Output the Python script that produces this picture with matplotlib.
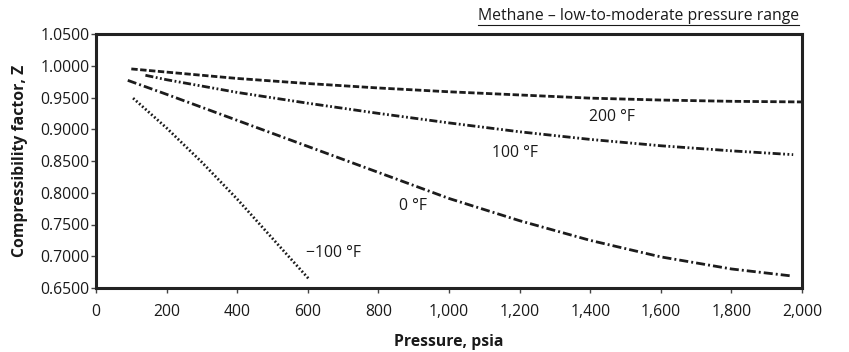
import matplotlib
matplotlib.use("Agg")
import matplotlib.pyplot as plt
from matplotlib.ticker import FuncFormatter, MultipleLocator
from matplotlib.lines import Line2D

plt.rcParams['font.family'] = ['Open Sans', 'DejaVu Sans']
plt.rcParams['lines.scale_dashes'] = False

# ---- data ----
p_200 = [100, 200, 400, 600, 800, 1000, 1200, 1400, 1600, 1800, 2000]
z_200 = [0.995, 0.990, 0.980, 0.972, 0.965, 0.959, 0.954, 0.949, 0.946, 0.944, 0.943]

p_100 = [140, 200, 400, 600, 800, 1000, 1200, 1400, 1600, 1800, 1975]
z_100 = [0.985, 0.978, 0.958, 0.941, 0.925, 0.910, 0.896, 0.884, 0.874, 0.866, 0.860]

p_0 = [90, 200, 400, 600, 800, 1000, 1200, 1400, 1600, 1800, 1970]
z_0 = [0.977, 0.955, 0.914, 0.873, 0.832, 0.791, 0.756, 0.725, 0.699, 0.680, 0.669]

p_m100 = [105, 200, 300, 400, 500, 605]
z_m100 = [0.949, 0.902, 0.848, 0.790, 0.728, 0.663]

curve_labels = ["200 \u00b0F", "100 \u00b0F", "0 \u00b0F", "\u2212100 \u00b0F"]
label_pos = [(1462, 0.919), (1187, 0.8626), (898, 0.779), (595, 0.705)]

title = "Methane \u2013 low-to-moderate pressure range"
xlabel = "Pressure, psia"
ylabel = "Compressibility factor, Z"

# ---- figure ----
W, H = 849, 352
fig = plt.figure(figsize=(W / 100, H / 100), dpi=100)
ax = fig.add_axes([96 / W, (H - 288) / H, (802 - 96) / W, (288 - 34) / H])

col = '#1c1c1c'
lw = 2.0
ax.plot(p_200, z_200, color=col, lw=lw, linestyle=(0, (4.6, 1.8)), dash_capstyle='butt')
ax.plot(p_100, z_100, color=col, lw=lw, linestyle=(0, (5.8, 1.8, 1.3, 1.8, 1.3, 1.8)), dash_capstyle='butt')
ax.plot(p_0, z_0, color=col, lw=lw, linestyle=(0, (6.5, 2.2, 1.4, 2.2)), dash_capstyle='butt')
ax.plot(p_m100, z_m100, color=col, lw=lw, linestyle=(0, (1.3, 1.6)), dash_capstyle='butt')

fs = 11.3
ha_list = ['center', 'center', 'center', 'left']
for (txt, (x, y), ha) in zip(curve_labels, label_pos, ha_list):
    ax.text(x, y, txt, ha=ha, va='center', fontsize=fs, color='#1a1a1a')

ax.set_xlim(0, 2000)
ax.set_ylim(0.65, 1.05)
ax.xaxis.set_major_locator(MultipleLocator(200))
ax.yaxis.set_major_locator(MultipleLocator(0.05))
ax.xaxis.set_major_formatter(FuncFormatter(lambda v, pos: f"{int(round(v)):,}"))
ax.yaxis.set_major_formatter(FuncFormatter(lambda v, pos: f"{v:.4f}"))

for s in ax.spines.values():
    s.set_linewidth(2.2)
    s.set_color('#222222')
ax.tick_params(axis='both', direction='out', length=3.5, width=1, color='#444444',
               labelsize=fs, labelcolor='#1a1a1a')
ax.tick_params(axis='y', pad=1)
ax.tick_params(axis='x', pad=8)

ax.set_xlabel(xlabel, fontsize=fs, fontweight='bold', labelpad=10, color='#1a1a1a')
ax.set_ylabel(ylabel, fontsize=fs, fontweight='bold', labelpad=9, color='#1a1a1a')

t = fig.text(799 / W, 1 - 20 / H, title, ha='right', va='baseline', fontsize=fs, color='#1a1a1a')

fig.canvas.draw()
bb = t.get_window_extent(renderer=fig.canvas.get_renderer())
yline = (bb.y0 - 1) / H
fig.add_artist(Line2D([bb.x0 / W, bb.x1 / W], [yline, yline], transform=fig.transFigure,
                      color='#1a1a1a', lw=0.8))

fig.savefig("out.png", dpi=100)
